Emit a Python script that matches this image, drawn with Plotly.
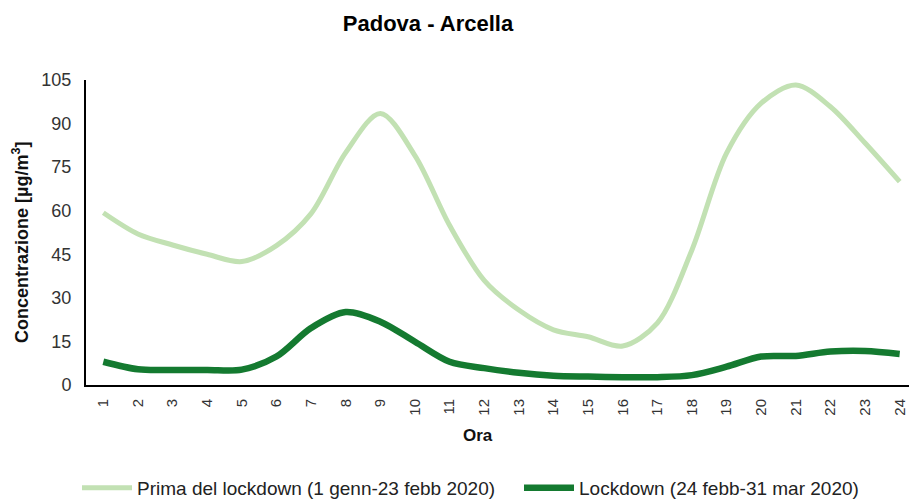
import plotly.graph_objects as go

ore = list(range(1, 25))
tick_labels = [str(h) for h in ore]
prima = [59.3, 52, 48.2, 45, 42.5, 48, 59, 80, 93.5, 79, 55, 36, 25.8, 19, 16.6, 13.4,
         21.3, 46.5, 79.8, 97, 103.3, 95.8, 83.3, 70]
lockdown = [8, 5.4, 5.2, 5.2, 5.3, 9.8, 19.6, 25.1, 21.8, 14.9, 8, 5.8, 4.2, 3.2, 2.9, 2.7,
            2.7, 3.4, 6.3, 9.8, 10, 11.5, 11.7, 10.7]
series_names = ["Prima del lockdown (1 genn-23 febb 2020)", "Lockdown (24 febb-31 mar 2020)"]

# page body has an 8px margin; figure is sized so it ends at the window edge
OFF = 8
W, H = 917 - OFF, 500 - OFF
# plot area in screen pixels: left 86, top 80, bottom 385, right 917
L, R, T = 86 - OFF, 0, 80 - OFF
B = H - (385 - OFF)

fig = go.Figure()
fig.add_trace(go.Scatter(x=ore, y=prima, mode="lines", name=series_names[0],
                         line=dict(color="#c2e1b3", width=5, shape="spline", smoothing=0.9),
                         legend="legend"))
fig.add_trace(go.Scatter(x=ore, y=lockdown, mode="lines", name=series_names[1],
                         line=dict(color="#147a30", width=6.5, shape="spline", smoothing=0.9),
                         legend="legend2"))

pw = 917 - 86
ph = 385 - 80

def px_x(px):
    return (px - 86) / pw

def px_y(py):
    return (385 - py) / ph

leg_common = dict(orientation="h", xref="container", yref="container",
                  xanchor="left", yanchor="middle", y=1 - (488 - OFF) / H,
                  font=dict(size=19, color="#222222"), itemwidth=50,
                  bgcolor="rgba(0,0,0,0)")

fig.update_layout(
    width=W, height=H,
    margin=dict(l=L, r=R, t=T, b=B, autoexpand=False),
    paper_bgcolor="white", plot_bgcolor="white",
    font=dict(family="Liberation Sans, Arial, sans-serif", color="#333333"),
    title=dict(text="<b>Padova - Arcella</b>", x=(428 - OFF) / W, xanchor="center",
               y=1 - (23 - OFF) / H, yanchor="middle",
               font=dict(family="Liberation Sans, Arial, sans-serif", size=22, color="#000000")),
    showlegend=True,
    legend=dict(leg_common, x=(77 - OFF) / W),
    legend2=dict(leg_common, x=(519 - OFF) / W),
    xaxis=dict(range=[0.5, 24.5], tickmode="array", tickvals=ore, ticktext=tick_labels,
               tickangle=-90, tickfont=dict(size=15, color="#333333"),
               showgrid=False, zeroline=False, showline=True, linecolor="#000000",
               linewidth=2, ticks="", ticklabelstandoff=6, fixedrange=True),
    yaxis=dict(range=[0, 105], tick0=0, dtick=15, tickfont=dict(size=18, color="#333333"),
               showgrid=False, zeroline=False, showline=True, linecolor="#000000",
               linewidth=2, ticks="", ticklabelstandoff=9, fixedrange=True),
    annotations=[
        dict(text="<b>Ora</b>", xref="paper", yref="paper", x=px_x(478), y=px_y(435),
             xanchor="center", yanchor="middle", showarrow=False,
             font=dict(size=17, color="#111111")),
        dict(text="<b>Concentrazione [µg/m<sup>3</sup>]</b>", xref="paper", yref="paper",
             x=px_x(20), y=px_y(243), xanchor="center", yanchor="middle", textangle=-90,
             showarrow=False, font=dict(size=18, color="#111111")),
    ],
)

fig.write_html("out.html")
